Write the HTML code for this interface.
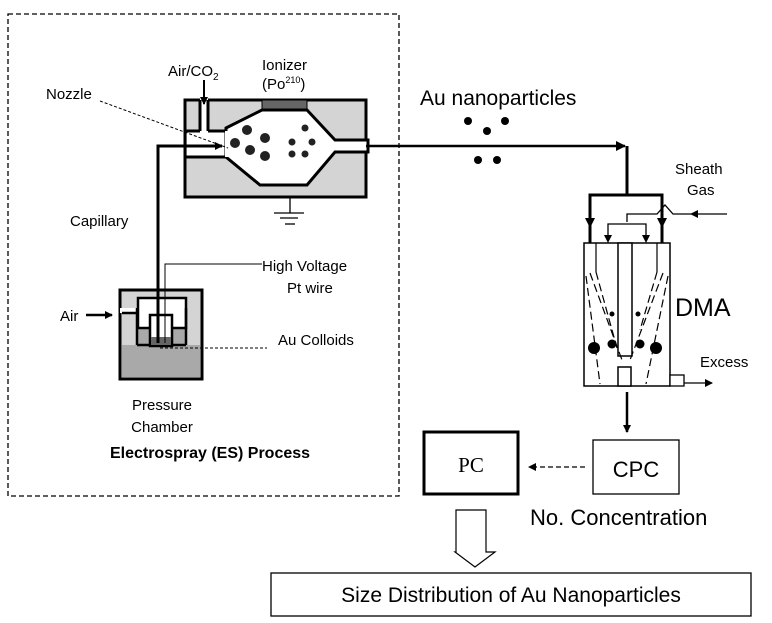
<!DOCTYPE html>
<html><head><meta charset="utf-8"><style>
html,body{margin:0;padding:0;background:#fff}
svg{display:block;font-family:"Liberation Sans",sans-serif}
</style></head><body>
<svg width="772" height="623" viewBox="0 0 772 623">
<defs>
<marker id="ah" markerWidth="8" markerHeight="8" refX="7" refY="4" orient="auto" markerUnits="userSpaceOnUse"><path d="M0,0 L8,4 L0,8 z" fill="#000"/></marker>
<marker id="ahs" markerWidth="10" markerHeight="10" refX="9" refY="5" orient="auto" markerUnits="userSpaceOnUse"><path d="M0,0 L10,5 L0,10 z" fill="#000"/></marker>
</defs>
<!-- dashed ES box -->
<rect x="8" y="14" width="391" height="482" fill="none" stroke="#000" stroke-width="1.3" stroke-dasharray="5,3"/>

<!-- Ionizer -->
<g>
<rect x="185" y="100" width="181" height="97" fill="#d4d4d4" stroke="#000" stroke-width="3"/>
<rect x="187" y="131" width="40" height="26" fill="#fff"/>
<rect x="200" y="98" width="8" height="34" fill="#fff"/>
<line x1="200" y1="100" x2="200" y2="131" stroke="#000" stroke-width="3"/>
<line x1="208" y1="100" x2="208" y2="131" stroke="#000" stroke-width="3"/>
<line x1="185" y1="131" x2="200" y2="131" stroke="#000" stroke-width="3"/>
<line x1="208" y1="131" x2="226" y2="131" stroke="#000" stroke-width="3"/>
<line x1="185" y1="157" x2="226" y2="157" stroke="#000" stroke-width="3"/>
<polygon points="226,128 262,110 307,110 335,140 368,140 368,152 335,152 307,185 260,185 226,157" fill="#fff" stroke="#000" stroke-width="3"/>
<rect x="225" y="131" width="4" height="26" fill="#fff"/>
<rect x="262" y="100" width="45" height="9" fill="#666" stroke="#000" stroke-width="1"/>
<circle cx="247" cy="130" r="5" fill="#222"/><circle cx="265" cy="138" r="5" fill="#222"/>
<circle cx="235" cy="143" r="5" fill="#222"/><circle cx="250" cy="150" r="5" fill="#222"/>
<circle cx="265" cy="156" r="5" fill="#222"/>
<circle cx="305" cy="128" r="3.5" fill="#222"/><circle cx="292" cy="142" r="3.5" fill="#222"/>
<circle cx="312" cy="142" r="3.5" fill="#222"/><circle cx="292" cy="154" r="3.5" fill="#222"/>
<circle cx="305" cy="154" r="3.5" fill="#222"/>
</g>
<g stroke="#000" stroke-width="1.3">
<line x1="290" y1="197" x2="290" y2="213"/><line x1="274" y1="213" x2="304" y2="213"/>
<line x1="280" y1="218" x2="298" y2="218"/><line x1="285" y1="224" x2="295" y2="224"/>
</g>
<text x="168" y="76" font-size="15">Air/CO<tspan font-size="10" dy="4">2</tspan></text>
<line x1="204" y1="80" x2="204" y2="104" stroke="#000" stroke-width="2" marker-end="url(#ah)"/>
<text x="262" y="70" font-size="15">Ionizer</text>
<text x="262" y="89" font-size="15">(Po<tspan font-size="9" dy="-6">210</tspan><tspan dy="6">)</tspan></text>
<text x="46" y="99" font-size="15">Nozzle</text>
<line x1="100" y1="101" x2="228" y2="148" stroke="#000" stroke-width="1" stroke-dasharray="3,2"/>
<text x="70" y="226" font-size="15">Capillary</text>

<!-- Pressure chamber -->
<g>
<rect x="120" y="290" width="82" height="89" fill="#d4d4d4" stroke="#000" stroke-width="3"/>
<rect x="122" y="328" width="78" height="49" fill="#a9a9a9"/>
<rect x="122" y="308" width="16" height="37" fill="#d4d4d4"/>
<rect x="186" y="308" width="14" height="37" fill="#d4d4d4"/>
<rect x="138" y="298" width="48" height="30" fill="#fff" stroke="#000" stroke-width="2.5"/>
<rect x="120" y="308" width="18" height="5" fill="#fff"/>
<line x1="137" y1="308" x2="137" y2="345" stroke="#000" stroke-width="2.5"/>
<line x1="186" y1="308" x2="186" y2="345" stroke="#000" stroke-width="2.5"/>
<line x1="122" y1="313" x2="137" y2="313" stroke="#000" stroke-width="2.5"/>
<line x1="137" y1="345" x2="150" y2="345" stroke="#000" stroke-width="2.5"/>
<line x1="172" y1="345" x2="186" y2="345" stroke="#000" stroke-width="2.5"/>
<rect x="150" y="315" width="22" height="31" fill="#fff" stroke="#000" stroke-width="2.5"/>
<rect x="151" y="337" width="20" height="8" fill="#666"/>
</g>
<polyline points="158,343 158,146 222,146" fill="none" stroke="#000" stroke-width="3" marker-end="url(#ah)"/>
<polyline points="165,343 165,264 262,264" fill="none" stroke="#000" stroke-width="1"/>
<text x="262" y="271" font-size="15">High Voltage</text>
<text x="287" y="293" font-size="15">Pt wire</text>
<line x1="160" y1="348" x2="267" y2="348" stroke="#000" stroke-width="1" stroke-dasharray="3,2"/>
<text x="278" y="345" font-size="15">Au Colloids</text>
<text x="60" y="321" font-size="15">Air</text>
<line x1="86" y1="315" x2="112" y2="315" stroke="#000" stroke-width="2.5" marker-end="url(#ah)"/>
<text x="162" y="410" font-size="15" text-anchor="middle">Pressure</text>
<text x="162" y="432" font-size="15" text-anchor="middle">Chamber</text>
<text x="210" y="458" font-size="16" font-weight="bold" text-anchor="middle">Electrospray (ES) Process</text>

<!-- transport line -->
<polyline points="366,146 625,146" fill="none" stroke="#000" stroke-width="2.5" marker-end="url(#ahs)"/>
<text x="420" y="105" font-size="21">Au nanoparticles</text>
<g fill="#000">
<circle cx="468" cy="121" r="4"/><circle cx="487" cy="131" r="4"/><circle cx="505" cy="121" r="4"/>
<circle cx="478" cy="160" r="4"/><circle cx="497" cy="160" r="4"/></g>

<!-- DMA -->
<polyline points="627,146 627,195" fill="none" stroke="#000" stroke-width="3"/>
<polyline points="590,243 590,195 662,195 662,243" fill="none" stroke="#000" stroke-width="3"/>
<path d="M590,228 l-5,-10 h10 z M662,228 l-5,-10 h10 z" fill="#000"/>
<text x="675" y="174" font-size="15">Sheath</text>
<text x="687" y="195" font-size="15">Gas</text>
<polyline points="727,214 690,214 673,214 665,205 657,214 627,214 627,222" fill="none" stroke="#000" stroke-width="1.3"/>
<path d="M690,214 l8,-4 v8 z" fill="#000"/>
<polyline points="608,240 608,224 646,224 646,240" fill="none" stroke="#000" stroke-width="1.3"/>
<path d="M608,243 l-4,-8 h8 z M646,243 l-4,-8 h8 z" fill="#000"/>
<g stroke="#000">
<rect x="584" y="243" width="86" height="143" fill="#fff" stroke-width="1.5"/>
<rect x="618" y="243" width="14" height="113" fill="#fff" stroke-width="1.5"/>
<rect x="618" y="367" width="13" height="19" fill="#fff" stroke-width="1.5"/>
<line x1="596" y1="243" x2="596" y2="272" stroke-width="1.2"/>
<line x1="657" y1="243" x2="657" y2="272" stroke-width="1.2"/>
<g stroke-dasharray="8,4" stroke-width="1.2" fill="none">
<line x1="586" y1="276" x2="600" y2="384"/><line x1="590" y1="273" x2="622" y2="360"/>
<line x1="596" y1="272" x2="617" y2="348"/>
<line x1="668" y1="276" x2="646" y2="384"/><line x1="663" y1="273" x2="630" y2="360"/>
<line x1="657" y1="272" x2="640" y2="330"/>
</g>
<rect x="670" y="375" width="14" height="11" fill="#fff" stroke-width="1.3"/>
</g>
<g fill="#000"><circle cx="594" cy="348" r="6"/><circle cx="612" cy="344" r="4.5"/>
<circle cx="640" cy="344" r="4.5"/><circle cx="656" cy="348" r="6"/>
<circle cx="612" cy="314" r="2.5"/><circle cx="638" cy="314" r="2.5"/></g>
<text x="675" y="316" font-size="25">DMA</text>
<text x="700" y="367" font-size="15">Excess</text>
<line x1="684" y1="383" x2="712" y2="383" stroke="#000" stroke-width="1.3" marker-end="url(#ah)"/>
<line x1="627" y1="392" x2="627" y2="432" stroke="#000" stroke-width="2.5" marker-end="url(#ah)"/>

<!-- PC, CPC -->
<rect x="424" y="432" width="94" height="62" fill="#fff" stroke="#000" stroke-width="3"/>
<text x="471" y="472" font-size="21" text-anchor="middle" font-family="Liberation Serif, serif">PC</text>
<rect x="593" y="440" width="86" height="54" fill="#fff" stroke="#000" stroke-width="1.3"/>
<text x="636" y="477" font-size="22" text-anchor="middle">CPC</text>
<line x1="585" y1="467" x2="529" y2="467" stroke="#000" stroke-width="1.3" stroke-dasharray="5,3" marker-end="url(#ah)"/>
<text x="530" y="525" font-size="22">No. Concentration</text>
<polygon points="456,510 486,510 486,552 495,552 475,567 455,552 456,552" fill="#fff" stroke="#000" stroke-width="1.2"/>
<rect x="271" y="573" width="480" height="43" fill="#fff" stroke="#000" stroke-width="1.3"/>
<text x="511" y="602" font-size="21" text-anchor="middle">Size Distribution of Au Nanoparticles</text>
</svg>
</body></html>
